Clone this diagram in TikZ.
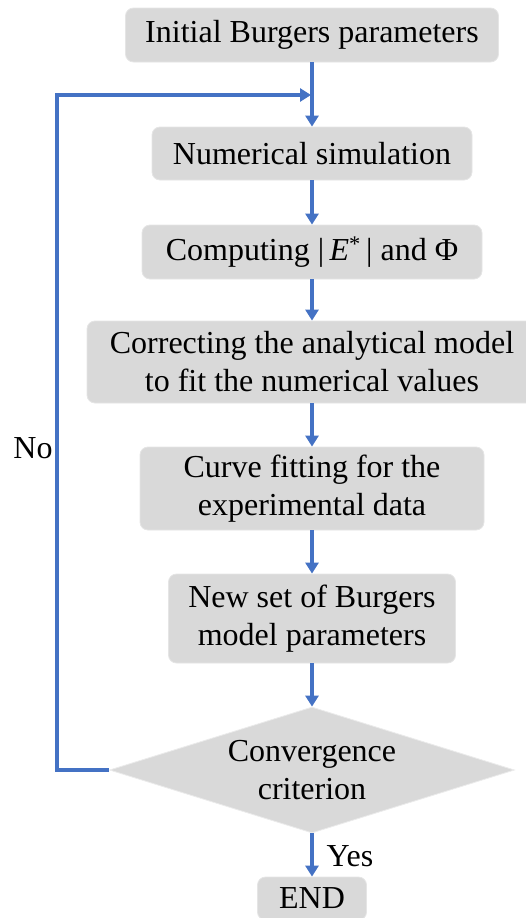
\documentclass[tikz,border=0pt]{standalone}
\usepackage{fontspec}
\setmainfont{Liberation Serif}
\usetikzlibrary{shapes.geometric, arrows.meta}

\definecolor{flowblue}{HTML}{4472C4}
\definecolor{boxgray}{HTML}{D9D9D9}

\tikzset{
    stepbox/.style={draw=black!10, line width=0.8pt, fill=boxgray, rounded corners=8pt,
        align=center, inner sep=0pt},
    decision/.style={diamond, aspect=3.2, draw=black!8, line width=0.8pt, fill=boxgray, align=center,
        inner sep=0pt, minimum width=405pt, minimum height=126pt},
    flow/.style={-{Triangle[length=11pt, width=13pt]}, line width=3.5pt, draw=flowblue},
}

\begin{document}
\begin{tikzpicture}[x=1pt, y=1pt, font=\fontsize{32}{38}\selectfont]
        \useasboundingbox (0,0) rectangle (526,-918);
        % Steps
        \node[stepbox, minimum width=373pt, minimum height=54pt] (init) at (312,-35) {Initial Burgers parameters};
        \node[stepbox, minimum width=320pt, minimum height=53pt] (sim) at (312,-153.5) {Numerical simulation};
        \node[stepbox, minimum width=340pt, minimum height=54pt] (comp) at (312,-252) {Computing |\,\textit{E}\textsuperscript{*}\,| and Φ};
        \node[stepbox, minimum width=450pt, minimum height=82pt] (corr) at (312,-362) {Correcting the analytical model\\to fit the numerical values};
        \node[stepbox, minimum width=344pt, minimum height=83pt] (fit) at (312,-488.5) {Curve fitting for the\\experimental data};
        \node[stepbox, minimum width=287pt, minimum height=89pt] (newset) at (312,-618.5) {New set of Burgers\\model parameters};
        \node[decision] (conv) at (312,-770) {Convergence\\criterion};
        \node[stepbox, minimum width=109pt, minimum height=43pt] (end) at (312,-898.5) {END};
        % Loop back
        \coordinate (bend) at (57,-95);
        \coordinate (join) at (311,-95);
        \draw[flow] (conv.west) -| (bend) -- (join);
        \node (no) at (33,-448) {No};
        % Arrows
        \draw[flow] (init) -- (sim);
        \draw[flow] (sim) -- (comp);
        \draw[flow] (comp) -- (corr);
        \draw[flow] (corr) -- (fit);
        \draw[flow] (fit) -- (newset);
        \draw[flow] (newset) -- (conv);
        \draw[flow] (conv) -- (end);
        \node (yes) at (350,-856) {Yes};
    \end{tikzpicture}
\end{document}
